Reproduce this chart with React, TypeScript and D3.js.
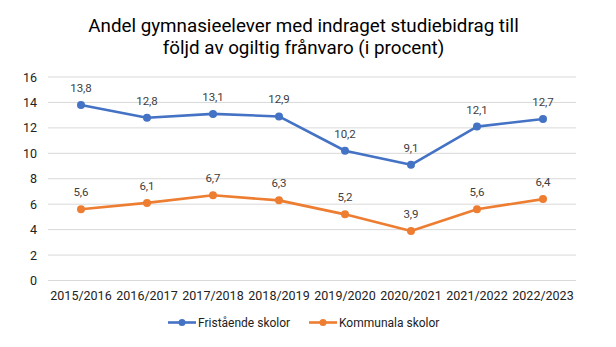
import React from "react";
import * as d3 from "d3";

const categories = ["2015/2016", "2016/2017", "2017/2018", "2018/2019", "2019/2020", "2020/2021", "2021/2022", "2022/2023"];
const fristaende = [13.8, 12.8, 13.1, 12.9, 10.2, 9.1, 12.1, 12.7];
const kommunala = [5.6, 6.1, 6.7, 6.3, 5.2, 3.9, 5.6, 6.4];
const yTicks = [0, 2, 4, 6, 8, 10, 12, 14, 16];
const seriesNames = ["Fristående skolor", "Kommunala skolor"];
const titleLines = ["Andel gymnasieelever med indraget studiebidrag till", "följd av ogiltig frånvaro (i procent)"];

const W = 616, H = 347;
const left = 48, right = 576, top = 77, bottom = 280.5;
const colors = ["#4472C4", "#ED7D31"];
const font = "Roboto, 'Liberation Sans', Arial, sans-serif";

export default function App() {
  const x = d3.scaleBand().domain(categories).range([left, right]);
  const y = d3.scaleLinear().domain([0, 16]).range([bottom, top]);
  const line = d3.line<number>().x((_, i) => x(categories[i])! + x.bandwidth() / 2).y((d) => y(d));
  const series = [fristaende, kommunala];
  const fmt = (v: number) => v.toFixed(1).replace(".", ",");
  const legendX = [168, 309];

  return (
    <svg width={W} height={H} style={{ position: "absolute", left: 0, top: 0, background: "#fff" }} fontFamily={font}>
      <rect width={W} height={H} fill="#fff" />
      {titleLines.map((t, i) => (
        <text key={i} x={303.5} y={32 + i * 22} textAnchor="middle" fontSize={18.8} fill="#000">{t}</text>
      ))}
      {yTicks.map((t) => (
        <g key={t}>
          <line x1={left} x2={right} y1={y(t)} y2={y(t)} stroke="#D9D9D9" strokeWidth={1} />
          <text x={37} y={y(t) + 4.5} textAnchor="end" fontSize={12.5} fill="#222">{t}</text>
        </g>
      ))}
      {categories.map((c) => (
        <text key={c} x={x(c)! + x.bandwidth() / 2} y={300} textAnchor="middle" fontSize={12.5} fill="#222">{c}</text>
      ))}
      {series.map((s, si) => (
        <g key={si}>
          <path d={line(s)!} fill="none" stroke={colors[si]} strokeWidth={2.6} strokeLinejoin="round" />
          {s.map((v, i) => (
            <g key={i}>
              <circle cx={x(categories[i])! + x.bandwidth() / 2} cy={y(v)} r={4} fill={colors[si]} />
              <text x={x(categories[i])! + x.bandwidth() / 2} y={y(v) - 13} textAnchor="middle" fontSize={11.5} fill="#404040">{fmt(v)}</text>
            </g>
          ))}
        </g>
      ))}
      {seriesNames.map((n, i) => (
        <g key={n}>
          <line x1={legendX[i]} x2={legendX[i] + 28} y1={322.5} y2={322.5} stroke={colors[i]} strokeWidth={2.6} />
          <circle cx={legendX[i] + 14} cy={322.5} r={3.5} fill={colors[i]} />
          <text x={legendX[i] + 30} y={326.5} fontSize={12} fill="#222">{n}</text>
        </g>
      ))}
    </svg>
  );
}
